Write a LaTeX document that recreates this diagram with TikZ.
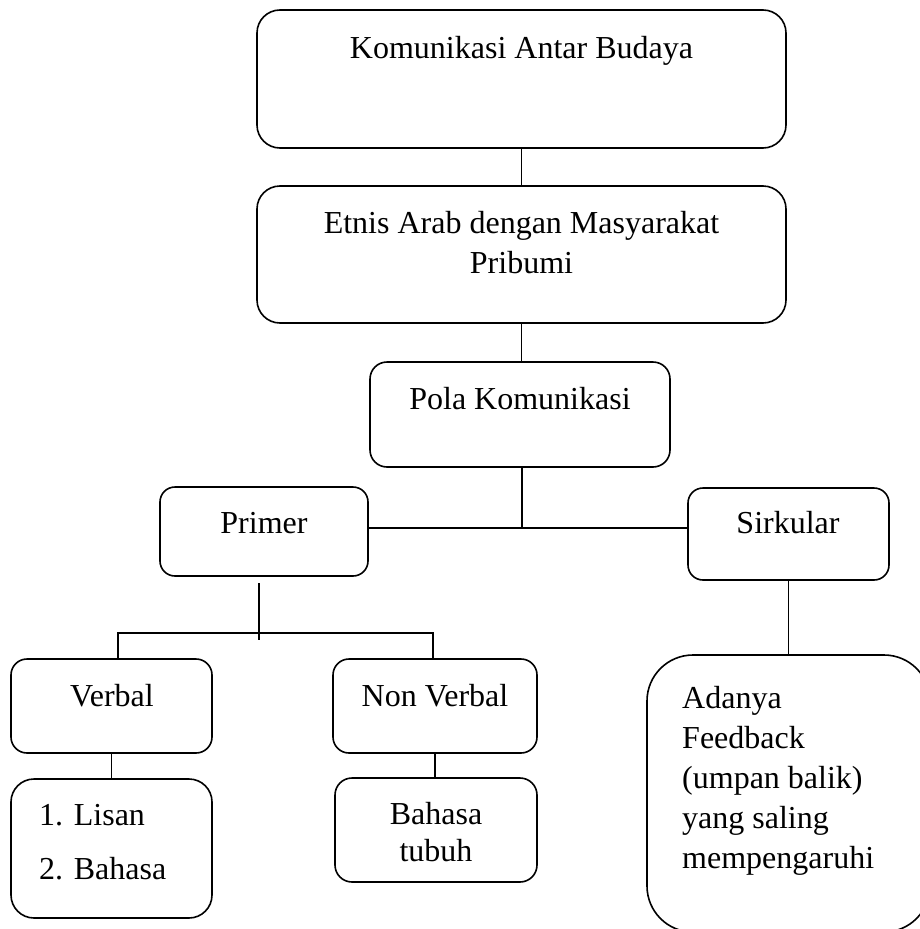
\documentclass[tikz,border=0pt]{standalone}
\usepackage{fontspec}
\setmainfont{Liberation Serif}
\begin{document}
\begin{tikzpicture}[x=1pt,y=-1pt,
  box/.style={draw, line width=1.6pt, inner sep=0pt, outer sep=0pt},
  conn/.style={line width=1.3pt},
  lbl/.style={inner sep=0pt, font=\fontsize{32}{40}\selectfont, anchor=base},
  lbll/.style={lbl, anchor=base west}]
\useasboundingbox (0,0) rectangle (920,929);
\clip (0,0) rectangle (920,929);
% boxes
\node[box, minimum width=529pt, minimum height=138pt, rounded corners=23pt] (top) at (521.5,79) {};
\node[box, minimum width=529pt, minimum height=137pt, rounded corners=23pt] (etnis) at (521.5,254.5) {};
\node[box, minimum width=300pt, minimum height=105pt, rounded corners=17pt] (pola) at (520,414.5) {};
\node[box, minimum width=208pt, minimum height=89pt, rounded corners=15pt] (primer) at (264,531.5) {};
\node[box, minimum width=201pt, minimum height=92pt, rounded corners=15pt] (sirkular) at (788.5,534) {};
\node[box, minimum width=201pt, minimum height=94pt, rounded corners=16pt] (verbal) at (111.5,706) {};
\node[box, minimum width=204pt, minimum height=94pt, rounded corners=16pt] (nonverbal) at (435,706) {};
\node[box, minimum width=201pt, minimum height=139pt, rounded corners=23pt] (lisan) at (111.5,848.5) {};
\node[box, minimum width=202pt, minimum height=104pt, rounded corners=17pt] (tubuh) at (436,830) {};
\node[box, minimum width=283pt, minimum height=277pt, rounded corners=46pt] (adanya) at (788.5,793.5) {};
% texts
\node[lbl] (t1) at (521.5,58) {Komunikasi Antar Budaya};
\node[lbl] (t2a) at (521.5,233) {Etnis Arab dengan Masyarakat};
\node[lbl] (t2b) at (521.5,273) {Pribumi};
\node[lbl] (t3) at (520,409) {Pola Komunikasi};
\node[lbl] (t4) at (264,533) {Primer};
\node[lbl] (t5) at (788,533) {Sirkular};
\node[lbl] (t6) at (112,706) {Verbal};
\node[lbl] (t7) at (435,706) {Non Verbal};
\node[lbll] (t8a) at (39,825) {1. Lisan};
\node[lbll] (t8b) at (39,879) {2. Bahasa};
\node[lbl] (t9a) at (436,824) {Bahasa};
\node[lbl] (t9b) at (436,861) {tubuh};
\node[lbll] (t10a) at (682,708) {Adanya};
\node[lbll] (t10b) at (682,748) {Feedback};
\node[lbll] (t10c) at (682,788) {(umpan balik)};
\node[lbll] (t10d) at (682,828) {yang saling};
\node[lbll] (t10e) at (682,868) {mempengaruhi};
% junction coordinates
\coordinate (j1) at (522,528);
\coordinate (ps) at (259,583);
\coordinate (pe) at (259,640);
\coordinate (pl) at (118,633);
\coordinate (pr) at (433,633);
% connectors
\draw[conn] (top.south) -- (etnis.north);
\draw[conn] (etnis.south) -- (etnis.south |- pola.north);
\draw[conn] (j1 |- pola.south) -- (j1);
\draw[conn] (primer.east |- j1) -- (sirkular.west |- j1);
\draw[conn] (ps) -- (pe);
\draw[conn] (pl |- verbal.north) -- (pl) -- (pr) -- (pr |- nonverbal.north);
\draw[conn] (verbal.south) -- (lisan.north);
\draw[conn] (nonverbal.south) -- (nonverbal.south |- tubuh.north);
\draw[conn] (sirkular.south) -- (sirkular.south |- adanya.north);
\end{tikzpicture}
\end{document}
